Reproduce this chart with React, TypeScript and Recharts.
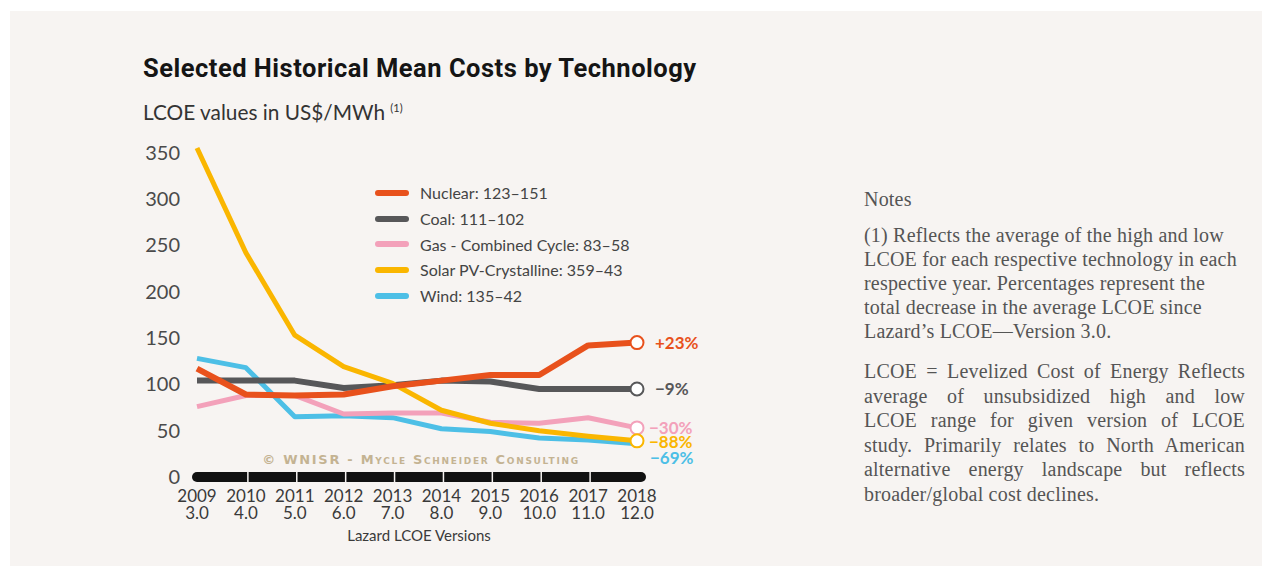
import { LineChart, Line, XAxis, YAxis, Legend } from "recharts";

const years = ["2009", "2010", "2011", "2012", "2013", "2014", "2015", "2016", "2017", "2018"];
const versions = ["3.0", "4.0", "5.0", "6.0", "7.0", "8.0", "9.0", "10.0", "11.0", "12.0"];

const nuclear = [117, 89, 88, 89, 98, 104, 110, 110, 142, 145];
const coal = [104, 104, 104, 96, 99, 104, 103, 95, 95, 95];
const gas = [76, 88, 88, 68, 69, 69, 59, 58, 64, 53];
const solar = [355, 242, 153, 119, 101, 72, 58, 50, 44, 39];
const wind = [128, 118, 65, 66, 64, 52, 49, 42, 40, 36];

const yTicks = [0, 50, 100, 150, 200, 250, 300, 350];

const legendLabels = [
  "Nuclear: 123\u2013151",
  "Coal: 111\u2013102",
  "Gas - Combined Cycle: 83\u201358",
  "Solar PV-Crystalline: 359\u201343",
  "Wind: 135\u201342",
];
const changeLabels = ["+23%", "\u22129%", "\u221230%", "\u221288%", "\u221269%"];

const data = years.map((y, i) => ({
  year: y,
  version: versions[i],
  nuclear: nuclear[i],
  coal: coal[i],
  gas: gas[i],
  solar: solar[i],
  wind: wind[i],
}));

// legend order
const series = [
  { key: "nuclear", color: "#e8511c", width: 6, ring: true, dx: 18, dy: 0 },
  { key: "coal", color: "#575759", width: 6, ring: true, dx: 18, dy: 0 },
  { key: "gas", color: "#f3a1ba", width: 5, ring: true, dx: 12, dy: 0 },
  { key: "solar", color: "#fab600", width: 5, ring: true, dx: 12, dy: 1 },
  { key: "wind", color: "#4dbfe6", width: 5, ring: false, dx: 13, dy: 14 },
];
// drawing order (back to front)
const drawOrder = ["wind", "gas", "coal", "solar", "nuclear"];

const BG = "#f7f4f2";
const SANS = "Lato, 'Open Sans', sans-serif";
const SERIF = "'Liberation Serif', 'DejaVu Serif', serif";

function XTick(props: any) {
  const { x, y, payload, index } = props;
  const i = payload.index ?? index;
  return (
    <g>
      {i > 0 && i < years.length - 1 && (
        <line x1={x + 2} x2={x + 2} y1={y - 6} y2={y + 6} stroke={BG} strokeWidth={1.5} />
      )}
      <text x={x} y={y + 25} textAnchor="middle" fontSize={17} fill="#3a3a3a" fontFamily={SANS}>
        {payload.value}
      </text>
      <text x={x} y={y + 42} textAnchor="middle" fontSize={17} fill="#3a3a3a" fontFamily={SANS}>
        {versions[i]}
      </text>
    </g>
  );
}

function makeDot(s: (typeof series)[number], label: string) {
  return (p: any) => {
    if (p.index !== years.length - 1) return <g key={`d-${s.key}-${p.index}`} />;
    return (
      <g key={`d-${s.key}-${p.index}`}>
        {s.ring && <circle cx={p.cx} cy={p.cy} r={6.5} fill="#fff" stroke={s.color} strokeWidth={2} />}
        <text
          x={p.cx + s.dx}
          y={p.cy + s.dy}
          dy="0.35em"
          fontSize={17}
          fontWeight={700}
          fill={s.color}
          fontFamily={SANS}
        >
          {label}
        </text>
      </g>
    );
  };
}

function LegendBox() {
  return (
    <div style={{ fontFamily: SANS, fontSize: 16, color: "#444" }}>
      {series.map((s, i) => (
        <div key={s.key} style={{ display: "flex", alignItems: "center", height: 25.7 }}>
          <span
            style={{
              display: "inline-block",
              width: 34,
              height: 6,
              borderRadius: 3,
              background: s.color,
              marginRight: 11,
            }}
          />
          <span>{legendLabels[i]}</span>
        </div>
      ))}
    </div>
  );
}

export default function App() {
  return (
    <div style={{ position: "absolute", left: 0, top: 0, width: 1269, height: 570, background: "#fff", overflow: "hidden" }}>
      <div style={{ position: "absolute", left: 10, top: 11, width: 1252, height: 555, background: BG }} />

      <div
        style={{
          position: "absolute",
          left: 143,
          top: 56,
          fontFamily: "Roboto, Lato, sans-serif",
          fontWeight: 700,
          fontSize: 25.5,
          letterSpacing: 0.5,
          lineHeight: "25px",
          color: "#151515",
          whiteSpace: "nowrap",
        }}
      >
        Selected Historical Mean Costs by Technology
      </div>
      <div
        style={{
          position: "absolute",
          left: 143,
          top: 98,
          fontFamily: SANS,
          fontSize: 20.8,
          lineHeight: "20px",
          color: "#333",
          whiteSpace: "nowrap",
        }}
      >
        LCOE values in US$/MWh <sup style={{ fontSize: 11 }}>(1)</sup>
      </div>

      <div style={{ position: "absolute", left: 0, top: 0 }}>
        <LineChart width={720} height={570} data={data} margin={{ top: 148, right: 79, bottom: 33, left: 137 }}>
          <XAxis
            dataKey="year"
            interval={0}
            height={60}
            tickSize={0}
            tickMargin={0}
            tickLine={false}
            padding={{ left: 0, right: 4 }}
            axisLine={{ stroke: "#111", strokeWidth: 10, strokeLinecap: "round" }}
            tick={<XTick />}
            label={{
              value: "Lazard LCOE Versions",
              position: "insideBottom",
              offset: -4,
              fontSize: 15,
              fill: "#3a3a3a",
              fontFamily: SANS,
            }}
          />
          <YAxis
            domain={[0, 350]}
            ticks={yTicks}
            width={60}
            axisLine={false}
            tickLine={false}
            tickMargin={11}
            tick={{ fontSize: 20, fill: "#4a4a4a", fontFamily: SANS }}
          />
          <Legend
            layout="horizontal"
            verticalAlign="middle"
            align="center"
            content={() => <LegendBox />}
            wrapperStyle={{ left: 375, top: 180, width: 320 }}
          />
          {drawOrder.map((k) => {
            const idx = series.findIndex((s) => s.key === k);
            const s = series[idx];
            return (
              <Line
                key={k}
                type="linear"
                dataKey={k}
                stroke={s.color}
                strokeWidth={s.width}
                strokeLinejoin="round"
                dot={makeDot(s, changeLabels[idx])}
                activeDot={false}
                isAnimationActive={false}
              />
            );
          })}
        </LineChart>
      </div>

      <div
        style={{
          position: "absolute",
          left: 221,
          top: 452,
          width: 400,
          textAlign: "center",
          fontFamily: "'DejaVu Sans', sans-serif",
          fontWeight: 700,
          fontSize: 13,
          lineHeight: "15px",
          letterSpacing: 1.7,
          fontVariant: "small-caps",
          color: "#c4b392",
          whiteSpace: "nowrap",
        }}
      >
        © WNISR - Mycle Schneider Consulting
      </div>

      <div style={{ position: "absolute", left: 864, top: 187, fontFamily: SERIF, fontSize: 20, letterSpacing: 0.2, color: "#555", whiteSpace: "nowrap" }}>
        <div style={{ lineHeight: "24px" }}>Notes</div>
        <div style={{ lineHeight: "24px", marginTop: 12 }}>
          (1) Reflects the average of the high and low
          <br />
          LCOE for each respective technology in each
          <br />
          respective year. Percentages represent the
          <br />
          total decrease in the average LCOE since
          <br />
          Lazard’s LCOE—Version 3.0.
        </div>
      </div>
      <div style={{ position: "absolute", left: 864, top: 359, width: 381, fontFamily: SERIF, fontSize: 20, letterSpacing: 0.2, color: "#555", lineHeight: "24.5px" }}>
        {[
          "LCOE = Levelized Cost of Energy Reflects",
          "average of unsubsidized high and low",
          "LCOE range for given version of LCOE",
          "study. Primarily relates to North American",
          "alternative energy landscape but reflects",
        ].map((t) => (
          <div key={t} style={{ textAlign: "justify", textAlignLast: "justify", whiteSpace: "nowrap" }}>
            {t}
          </div>
        ))}
        <div>broader/global cost declines.</div>
      </div>
    </div>
  );
}
